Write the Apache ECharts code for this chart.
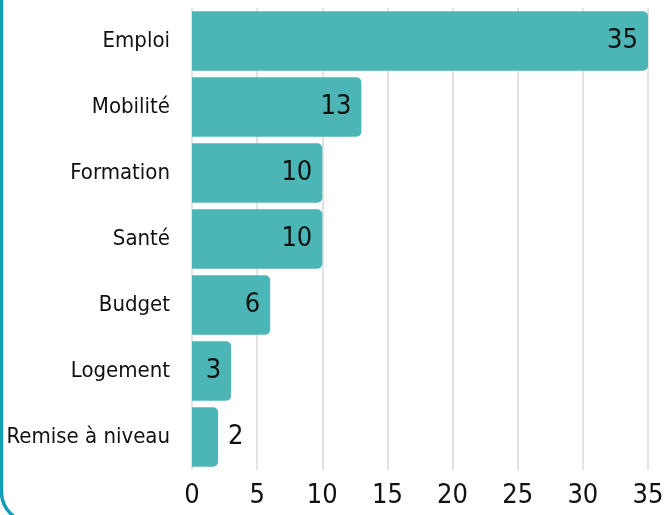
<!DOCTYPE html>
<html>
<head>
<meta charset="utf-8">
<script src="https://cdn.jsdelivr.net/npm/echarts@6/dist/echarts.min.js"></script>
<style>
  html, body { margin: 0; padding: 0; background: #ffffff; }
  #chart { width: 666px; height: 515px; }
</style>
</head>
<body>
<div id="chart"></div>
<script>
// Categories, top to bottom
const categories = ['Emploi', 'Mobilité', 'Formation', 'Santé', 'Budget', 'Logement', 'Remise à niveau'];
// Number of mentions per category
const counts = [35, 13, 10, 10, 6, 3, 2];
// Value axis ticks
const axisMin = 0;
const axisMax = 35;
const axisStep = 5;

const FONT = '"DejaVu Sans Condensed", "Liberation Sans Narrow", sans-serif';
const BAR = '#4bb6b5';
const INK = '#111111';

const chart = echarts.init(document.getElementById('chart'));

// y axis is a category axis: reverse so the first category is on top
const yCats = categories.slice().reverse();
const yVals = counts.slice().reverse().map(v => ({
  value: v,
  label: { position: v < 3 ? 'right' : 'insideRight' }
}));

chart.setOption({
  animation: false,
  grid: { left: 192, right: 18, top: 8, bottom: 45, containLabel: false, outerBoundsMode: 'none' },
  xAxis: {
    type: 'value',
    min: axisMin,
    max: axisMax,
    interval: axisStep,
    axisLine: { show: false },
    axisTick: { show: false },
    splitLine: { show: true, lineStyle: { color: '#d9d9d9', width: 1.5 } },
    axisLabel: { fontFamily: FONT, fontSize: 27, color: INK, margin: 12 }
  },
  yAxis: {
    type: 'category',
    data: yCats,
    axisLine: { show: false },
    axisTick: { show: false },
    axisLabel: { fontFamily: FONT, fontSize: 22, color: INK, margin: 22 }
  },
  series: [{
    type: 'bar',
    data: yVals,
    barCategoryGap: '10%',
    itemStyle: { color: BAR, borderRadius: [0, 5, 5, 0] },
    label: {
      show: true,
      fontFamily: FONT,
      fontSize: 27,
      color: INK,
      distance: 10
    }
  }],
  // panel frame: only its left edge and lower-left corner fall inside the view
  graphic: [{
    type: 'rect',
    shape: { x: 1.5, y: -60, width: 800, height: 582, r: 30 },
    style: { fill: 'none', stroke: '#139db8', lineWidth: 3.5 },
    silent: true,
    z: 100
  }]
});
</script>
</body>
</html>
